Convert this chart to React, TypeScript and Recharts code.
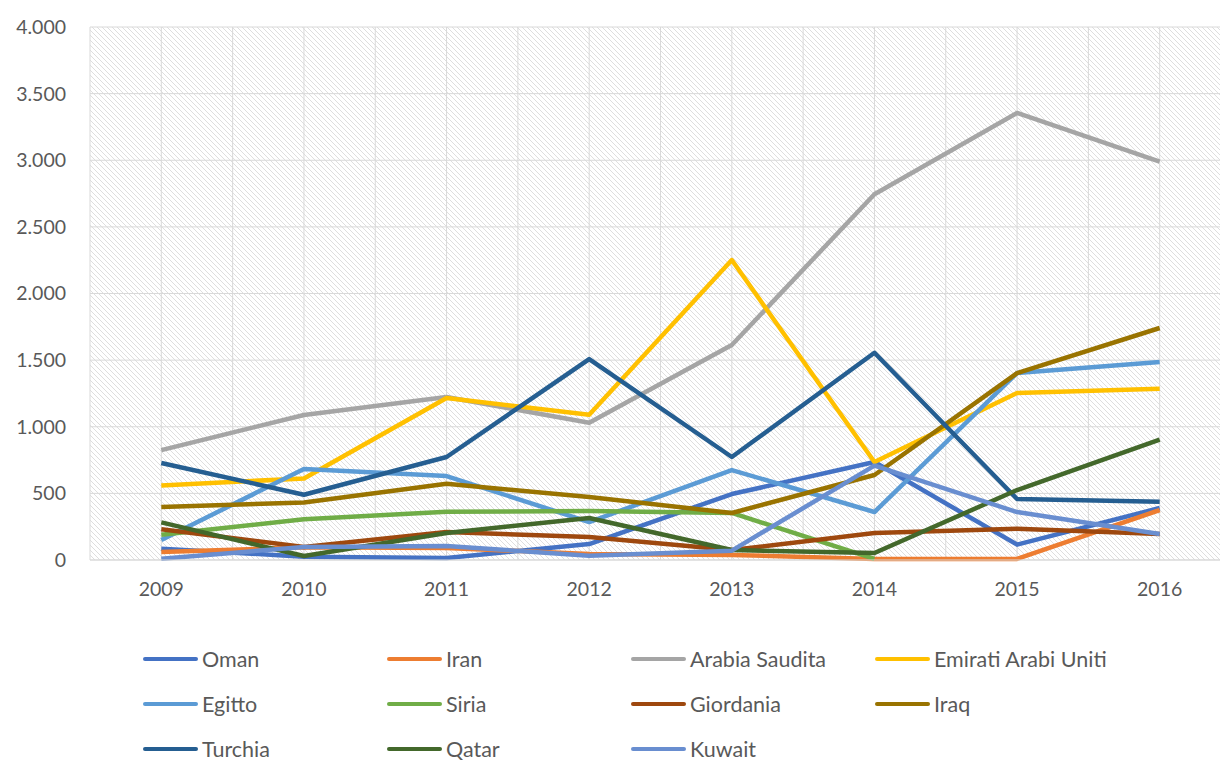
import React from 'react';
import {
  LineChart,
  Line,
  XAxis,
  YAxis,
  CartesianGrid,
  Legend,
} from 'recharts';

const years = [2009, 2010, 2011, 2012, 2013, 2014, 2015, 2016];

const oman = [85, 25, 15, 120, 495, 735, 115, 390];
const iran = [60, 95, 90, 45, 38, 8, 8, 375];
const arabiaSaudita = [825, 1088, 1223, 1030, 1613, 2745, 3355, 2990];
const emirati = [560, 612, 1216, 1090, 2251, 735, 1253, 1285];
const egitto = [150, 683, 630, 285, 675, 360, 1403, 1486];
const siria = [190, 305, 362, 368, 353, 8, null, null];
const giordania = [230, 98, 210, 173, 75, 203, 235, 195];
const iraq = [398, 432, 572, 473, 353, 638, 1403, 1741];
const turchia = [728, 490, 773, 1508, 773, 1555, 458, 437];
const qatar = [282, 30, 203, 315, 75, 53, 525, 903];
const kuwait = [10, 98, 105, 32, 70, 708, 360, 195];

const yTicks = [0, 500, 1000, 1500, 2000, 2500, 3000, 3500, 4000];
const xTicks = [
  2008.5, 2009, 2009.5, 2010, 2010.5, 2011, 2011.5, 2012, 2012.5, 2013, 2013.5,
  2014, 2014.5, 2015, 2015.5, 2016, 2016.5,
];

const SERIES = [
  { key: 'Oman', values: oman, color: '#4472C4' },
  { key: 'Iran', values: iran, color: '#ED7D31' },
  { key: 'Arabia Saudita', values: arabiaSaudita, color: '#A5A5A5' },
  { key: 'Emirati Arabi Uniti', values: emirati, color: '#FFC000' },
  { key: 'Egitto', values: egitto, color: '#5B9BD5' },
  { key: 'Siria', values: siria, color: '#70AD47' },
  { key: 'Giordania', values: giordania, color: '#9E480E' },
  { key: 'Iraq', values: iraq, color: '#997300' },
  { key: 'Turchia', values: turchia, color: '#255E91' },
  { key: 'Qatar', values: qatar, color: '#43682B' },
  { key: 'Kuwait', values: kuwait, color: '#698ED0' },
];

const data = years.map((year, i) => {
  const row: Record<string, number | null> = { year };
  SERIES.forEach((s) => {
    row[s.key] = s.values[i];
  });
  return row;
});

const FONT = 'Lato, "Open Sans", sans-serif';
const TEXT = '#595959';

const formatThousands = (v: number) =>
  String(v).replace(/\B(?=(\d{3})+(?!\d))/g, '.');

function LegendContent() {
  return (
    <div
      style={{
        display: 'grid',
        gridTemplateColumns: 'repeat(4, 244px)',
        gridAutoRows: '45px',
        paddingTop: 26,
        paddingLeft: 143,
        height: 150,
        boxSizing: 'border-box',
        fontFamily: FONT,
        fontSize: 21.5,
        lineHeight: '24px',
        color: TEXT,
      }}
    >
      {SERIES.map((s) => (
        <div key={s.key} style={{ display: 'flex', alignItems: 'center' }}>
          <span
            style={{
              display: 'inline-block',
              width: 55,
              height: 4,
              borderRadius: 2,
              background: s.color,
              marginRight: 4,
            }}
          />
          <span>{s.key}</span>
        </div>
      ))}
    </div>
  );
}

export default function App() {
  return (
    <div
      style={{
        position: 'absolute',
        left: 0,
        top: 0,
        width: 1220,
        height: 760,
        overflow: 'hidden',
        background: '#fff',
      }}
    >
      <svg width="0" height="0" style={{ position: 'absolute' }}>
        <defs>
          <pattern id="hatch" width="5" height="5" patternUnits="userSpaceOnUse">
            <rect width="5" height="5" fill="#ffffff" />
            <path
              d="M0,0 L5,5 M-1,4 L1,6 M4,-1 L6,1"
              stroke="#dedede"
              strokeWidth="1"
            />
          </pattern>
        </defs>
      </svg>
      <LineChart
        width={1240}
        height={760}
        data={data}
        margin={{ top: 27, right: 9, left: 0, bottom: 0 }}
      >
        <CartesianGrid stroke="#d9d9d9" fill="url(#hatch)" />
        <XAxis
          dataKey="year"
          type="number"
          domain={[2008.5, 2016.5]}
          ticks={xTicks}
          interval={0}
          height={50}
          tickLine={false}
          tickSize={0}
          tickMargin={22}
          stroke="#d9d9d9"
          tick={{ fill: TEXT, fontSize: 19.5, fontFamily: FONT }}
          tickFormatter={(v: number) => (Number.isInteger(v) ? String(v) : '')}
        />
        <YAxis
          domain={[0, 4000]}
          ticks={yTicks}
          width={90}
          axisLine={false}
          tickLine={false}
          tickSize={0}
          tickMargin={24}
          tick={{ fill: TEXT, fontSize: 19.5, fontFamily: FONT }}
          tickFormatter={formatThousands}
        />
        <Legend
          verticalAlign="bottom"
          align="left"
          content={() => <LegendContent />}
          wrapperStyle={{ height: 150 }}
        />
        {SERIES.map((s) => (
          <Line
            key={s.key}
            dataKey={s.key}
            stroke={s.color}
            strokeWidth={4.5}
            dot={false}
            activeDot={false}
            strokeLinejoin="round"
            isAnimationActive={false}
          />
        ))}
      </LineChart>
    </div>
  );
}
